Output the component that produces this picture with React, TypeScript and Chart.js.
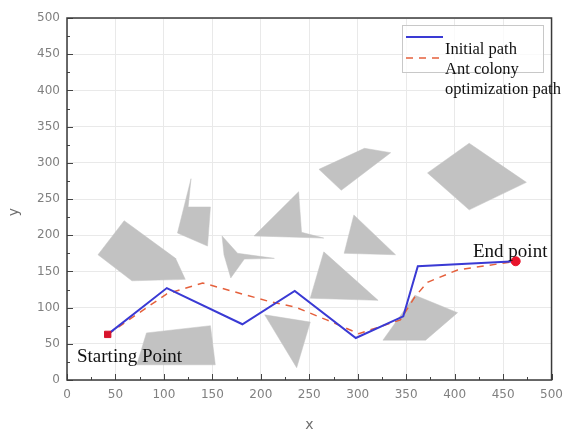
import React, { useEffect, useRef } from "react";
import { Chart, registerables } from "chart.js";

Chart.register(...registerables);

const axisTicks = [0, 50, 100, 150, 200, 250, 300, 350, 400, 450, 500];

const initialPathX = [42, 103, 181, 235, 298, 347, 362, 463];
const initialPathY = [63, 127, 77, 123, 58, 88, 157, 164];

const antPathX = [42, 103, 140, 210, 235, 268, 301, 344, 359, 372, 403, 463];
const antPathY = [63, 119, 134, 108, 101, 83, 64, 83, 115, 135, 152, 164];

const startPoint = [42, 63];
const endPoint = [463, 164];

const obstacle1 = [[59, 220], [32, 173], [67, 137], [122, 139], [112, 168]];
const obstacle2 = [[128, 278], [125, 239], [148, 239], [145, 185], [114, 203]];
const obstacle3 = [[160, 199], [176, 175], [214, 168], [183, 167], [169, 141], [162, 173]];
const obstacle4 = [[239, 260], [193, 199], [265, 196], [242, 204]];
const obstacle5 = [[260, 291], [307, 320], [334, 314], [283, 262]];
const obstacle6 = [[415, 327], [372, 286], [415, 235], [474, 273]];
const obstacle7 = [[296, 228], [286, 175], [339, 173]];
const obstacle8 = [[265, 177], [251, 113], [321, 110]];
const obstacle9 = [[204, 90], [251, 80], [237, 17]];
const obstacle10 = [[326, 55], [359, 117], [403, 93], [370, 55]];
const obstacle11 = [[82, 65], [148, 75], [153, 21], [72, 21]];

const obstacles = [obstacle1, obstacle2, obstacle3, obstacle4, obstacle5, obstacle6, obstacle7, obstacle8, obstacle9, obstacle10, obstacle11];

const legendLabels = ["Initial path", "Ant colony", "optimization path"];
const startLabel = "Starting Point";
const endLabel = "End point";

const BLUE = "#3a3ad4";
const DASH = "#e5603c";
const GRAY = "#c2c2c2";

export default function App() {
  const ref = useRef<HTMLCanvasElement | null>(null);

  useEffect(() => {
    document.body.style.margin = "0";
    const canvas = ref.current;
    if (!canvas) return;

    const obstacleSets = obstacles.map((poly) => ({
      data: [...poly, poly[0]].map(([x, y]) => ({ x, y })),
      showLine: true,
      fill: "shape",
      backgroundColor: GRAY,
      borderColor: GRAY,
      borderWidth: 0.5,
      pointRadius: 0,
      order: 3,
    }));

    const decor = {
      id: "decor",
      afterDatasetsDraw(chart: any) {
        const ctx = chart.ctx;
        const a = chart.chartArea;
        const xs = chart.scales.x;
        const ys = chart.scales.y;
        ctx.save();
        // inward ticks
        ctx.strokeStyle = "#444";
        ctx.lineWidth = 1;
        for (let v = 0; v <= 500; v += 25) {
          const len = v % 50 === 0 ? 6 : 3;
          const px = Math.round(xs.getPixelForValue(v)) + 0.5;
          ctx.beginPath();
          ctx.moveTo(px, a.bottom);
          ctx.lineTo(px, a.bottom - len);
          ctx.stroke();
          const py = Math.round(ys.getPixelForValue(v)) + 0.5;
          ctx.beginPath();
          ctx.moveTo(a.left, py);
          ctx.lineTo(a.left + len, py);
          ctx.stroke();
        }
        // frame
        ctx.strokeStyle = "#3a3a3a";
        ctx.lineWidth = 1.5;
        ctx.strokeRect(a.left, a.top, a.right - a.left, a.bottom - a.top);
        // axis titles
        ctx.fillStyle = "#6e6e6e";
        ctx.font = "14px 'DejaVu Sans'";
        ctx.textAlign = "center";
        ctx.textBaseline = "middle";
        ctx.fillText("x", (a.left + a.right) / 2, 425);
        ctx.save();
        ctx.translate(14, 212);
        ctx.rotate(-Math.PI / 2);
        ctx.fillText("y", 0, 0);
        ctx.restore();
        // legend
        ctx.fillStyle = "rgba(255,255,255,0.75)";
        ctx.fillRect(402, 25, 141, 47);
        ctx.strokeStyle = "#c8c8c8";
        ctx.lineWidth = 1;
        ctx.strokeRect(402.5, 25.5, 141, 47);
        ctx.strokeStyle = BLUE;
        ctx.lineWidth = 2;
        ctx.beginPath();
        ctx.moveTo(406, 37);
        ctx.lineTo(443, 37);
        ctx.stroke();
        ctx.strokeStyle = DASH;
        ctx.lineWidth = 1.5;
        ctx.setLineDash([7, 6]);
        ctx.beginPath();
        ctx.moveTo(406, 58);
        ctx.lineTo(445, 58);
        ctx.stroke();
        ctx.setLineDash([]);
        ctx.fillStyle = "#111";
        ctx.textAlign = "left";
        ctx.textBaseline = "middle";
        ctx.font = "16.5px 'Liberation Serif'";
        ctx.fillText(legendLabels[0], 445, 50);
        ctx.fillText(legendLabels[1], 445, 70);
        ctx.fillText(legendLabels[2], 445, 90);
        // annotations
        ctx.font = "19px 'Liberation Serif'";
        ctx.fillText(startLabel, 77, 357);
        ctx.fillText(endLabel, 473, 252);
        ctx.restore();
      },
    };

    const chart = new Chart(canvas, {
      type: "scatter",
      data: {
        datasets: [
          {
            data: [{ x: startPoint[0], y: startPoint[1] }],
            pointStyle: "rect",
            pointRadius: 4.5,
            backgroundColor: "#d8142c",
            borderColor: "#d8142c",
            order: 0,
          },
          {
            data: [{ x: endPoint[0], y: endPoint[1] }],
            pointStyle: "circle",
            pointRadius: 4.5,
            backgroundColor: "#e8142c",
            borderColor: "#e8142c",
            order: 0,
          },
          {
            data: initialPathX.map((x, i) => ({ x, y: initialPathY[i] })),
            showLine: true,
            borderColor: BLUE,
            borderWidth: 2,
            pointRadius: 0,
            fill: false,
            order: 1,
          },
          {
            data: antPathX.map((x, i) => ({ x, y: antPathY[i] })),
            showLine: true,
            borderColor: DASH,
            borderWidth: 1.5,
            borderDash: [7, 6],
            pointRadius: 0,
            fill: false,
            order: 2,
          },
          ...obstacleSets,
        ] as any,
      },
      options: {
        animation: false,
        responsive: false,
        layout: { padding: { top: 18, right: 13, left: 0, bottom: 0 } },
        plugins: { legend: { display: false }, tooltip: { enabled: false } },
        scales: {
          x: {
            type: "linear",
            min: 0,
            max: 500,
            afterBuildTicks: (s: any) => {
              s.ticks = axisTicks.map((v) => ({ value: v }));
            },
            afterFit: (s: any) => {
              s.height = 52;
            },
            grid: { color: "#e9e9e9", drawTicks: false },
            border: { display: false },
            ticks: { color: "#808080", padding: 8, font: { size: 12, family: "'DejaVu Sans'" } },
          },
          y: {
            type: "linear",
            min: 0,
            max: 500,
            afterBuildTicks: (s: any) => {
              s.ticks = axisTicks.map((v) => ({ value: v }));
            },
            afterFit: (s: any) => {
              s.width = 67;
            },
            grid: { color: "#e9e9e9", drawTicks: false },
            border: { display: false },
            ticks: { color: "#808080", padding: 7, font: { size: 12, family: "'DejaVu Sans'" } },
          },
        },
      },
      plugins: [decor],
    } as any);

    return () => chart.destroy();
  }, []);

  return (
    <div style={{ width: 571, height: 432 }}>
      <canvas ref={ref} width={571} height={432} style={{ display: "block" }} />
    </div>
  );
}
